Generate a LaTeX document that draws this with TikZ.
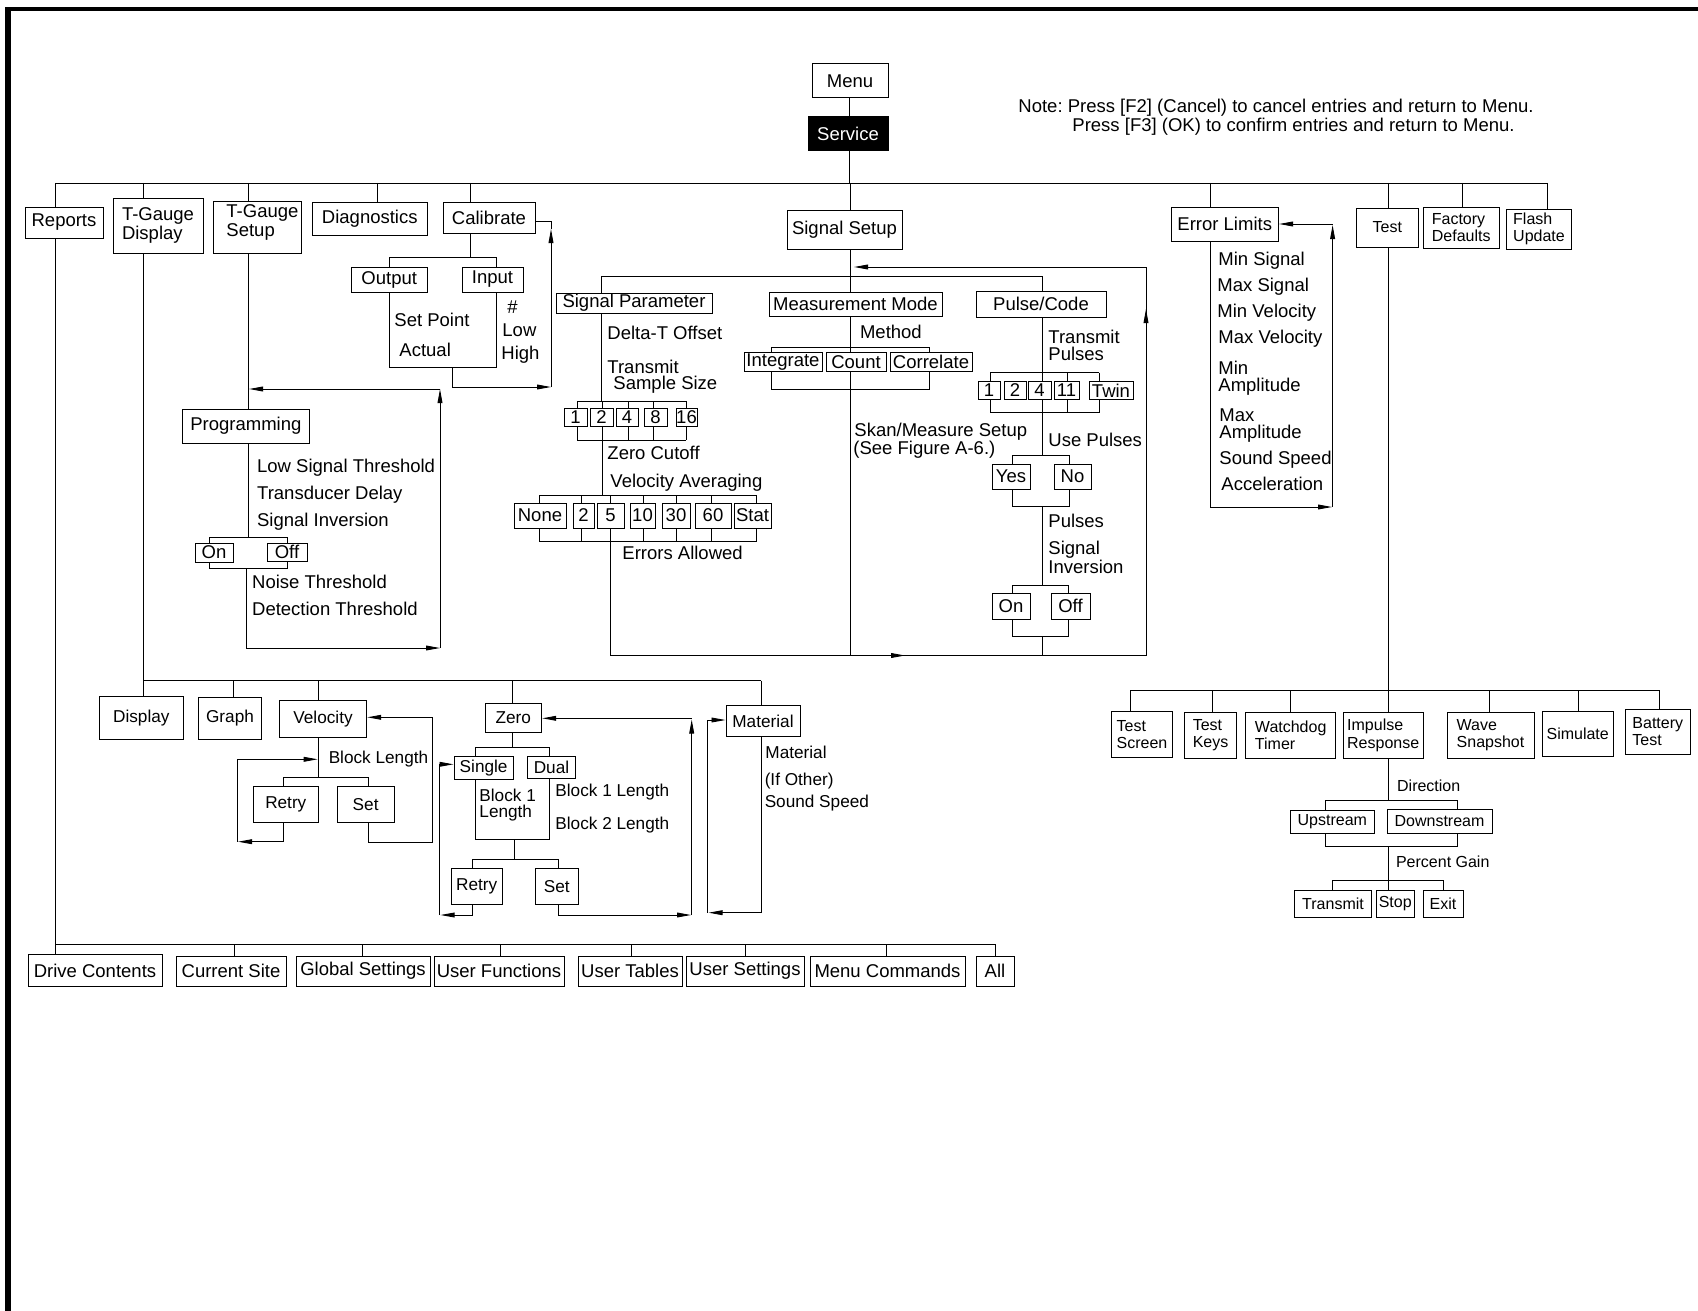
\documentclass[tikz,border=0pt]{standalone}
\usepackage{fontspec}
\setmainfont{Liberation Sans}
\usetikzlibrary{arrows.meta}
\frenchspacing
\newcommand\fontMain{\fontsize{9.25}{9.9}\selectfont}
\newcommand\fontMid{\fontsize{8.6}{9.2}\selectfont}
\newcommand\fontSmall{\fontsize{8}{8.6}\selectfont}
\newcommand\mkbox[7][]{%
  \pgfmathsetmacro\bxcx{(#3+#5)/2}%
  \pgfmathsetmacro\bxcy{(#4+#6)/2}%
  \pgfmathsetmacro\bxw{(#5-#3)/2}%
  \pgfmathsetmacro\bxh{(#6-#4)/2}%
  \node[bx,minimum width=\bxw pt,minimum height=\bxh pt,#1] (#2) at (\bxcx,\bxcy) {#7};%
}
\begin{document}
\begin{tikzpicture}[x=0.5pt,y=-0.5pt,line width=0.45pt,
  bx/.style={draw,line width=0.5pt,inner sep=0pt,font=\fontMain,align=center},
  txt/.style={inner sep=0pt,anchor=west,font=\fontMain,align=left},
  fmid/.style={font=\fontMid},
  fsmall/.style={font=\fontSmall},
  arrowed/.style={-{Triangle[length=7pt,width=2.4pt]}}]
\useasboundingbox (0,0) rectangle (1698,1311);
% frame
\fill (5,7) rectangle (1698,11);
\fill (5,7) rectangle (11,1311);

% top
\mkbox{menu}{812}{64}{888}{98}{Menu}
\mkbox[fill=black,text=white]{service}{808}{117}{888}{151}{Service}
\draw (menu.south -| 849,0) -- (service.north -| 849,0);
\draw (service.south -| 849,0) -- (849,183);
\node[txt] (note1) at (1018,108) {Note: Press [F2] (Cancel) to cancel entries and return to Menu.};
\node[txt] (note2) at (1072,127) {Press [F3] (OK) to confirm entries and return to Menu.};

% main bus and first row
\draw (55,183) -- (1547,183);
\mkbox{reports}{25}{207}{103}{238}{Reports}
\mkbox[align=left]{tgd}{113}{198}{203}{253}{T-Gauge\\Display}
\mkbox{tgs}{213}{201}{301.5}{253}{}
\node[txt] (tgst) at (226,222.5) {T-Gauge\\Setup};
\mkbox{diag}{312.6}{202}{427}{235}{Diagnostics}
\mkbox{cal}{443}{202}{535}{233}{Calibrate}
\mkbox{sigset}{787}{210}{902}{249}{Signal Setup}
\mkbox{errlim}{1171}{207}{1278.5}{241}{Error Limits}
\mkbox[fsmall]{test}{1356}{208}{1418.5}{247}{Test}
\mkbox[fsmall,align=left]{facdef}{1423.4}{207}{1499}{248}{Factory\\Defaults}
\mkbox[fsmall,align=left]{flash}{1506.6}{209}{1571.4}{249}{Flash\\Update}
\foreach \x/\n in {55/reports,143.5/tgd,248/tgs,377/diag,470/cal,850/sigset,1210.6/errlim,1388/test,1462/facdef,1547/flash}
  \draw (\x,183) -- (\n.north -| \x,0);

% Calibrate
\mkbox{output}{351.5}{267}{427}{292}{Output}
\mkbox{input}{462}{267}{523}{292}{Input}
\draw (cal.south -| 470,0) -- (470,257);
\draw (output.north -| 389,0) -- (389,257) -- (496,257) -- (input.north -| 496,0);
\draw (output.south -| 389,0) -- (389,367) -- (496,367) -- (input.south -| 496,0);
\draw[arrowed] (452,367) |- (551,387);
\draw[arrowed] (551,387) -- (551,229);
\draw (551,229) -- (551,221) -- (cal.east |- 0,221);
\node[txt] (setpoint) at (394,320) {Set Point};
\node[txt] (actual) at (399,350) {Actual};
\node[txt] (hash) at (507,307) {\#};
\node[txt] (low) at (502,330) {Low};
\node[txt] (high) at (501,355) {High};

% T-Gauge Setup / Programming
\mkbox{prog}{182.7}{409}{309}{443}{Programming}
\draw (tgs.south -| 248,0) -- (prog.north -| 248,0);
\draw[arrowed] (440,389) -- (249,389);
\draw (prog.south -| 248,0) -- (248,537);
\node[txt] (lst) at (256.7,468) {Low Signal Threshold};
\node[txt] (tdel) at (256.7,495) {Transducer Delay};
\node[txt] (sinv) at (256.7,522) {Signal Inversion};
\mkbox{on1}{195}{543}{233}{562}{On}
\mkbox{off1}{267}{543}{307}{561}{Off}
\draw (on1.north -| 209,0) -- (209,537) -- (287,537) -- (off1.north -| 287,0);
\draw (on1.south -| 209,0) -- (209,568) -- (287,568) -- (off1.south -| 287,0);
\draw[arrowed] (246.7,568) |- (440,648);
\draw[arrowed] (440,648) -- (440,389);
\node[txt] (noise) at (251.7,582) {Noise Threshold};
\node[txt] (detect) at (251.7,609) {Detection Threshold};

% Signal Setup
\mkbox{sigpar}{556}{293}{712}{313}{Signal Parameter}
\mkbox{measmode}{769}{292}{942}{316}{Measurement Mode}
\mkbox{pulsecode}{976}{291}{1106}{317}{Pulse/Code}
\draw (sigset.south -| 850,0) -- (850,276);
\draw (sigpar.north -| 601,0) -- (601,276) -- (1042,276) -- (pulsecode.north -| 1042,0);
\draw (850,276) -- (measmode.north -| 850,0);

% Signal Parameter
\draw (sigpar.south -| 601,0) -- (601,401);
\node[txt] (dto) at (607,333) {Delta-T Offset};
\node[txt] (trn) at (607,367) {Transmit};
\node[txt] (sss) at (613,385) {Sample Size};
\mkbox{ssa}{564}{408}{587}{426}{1}
\mkbox{ssb}{590}{408}{613}{426}{2}
\mkbox{ssc}{616}{408}{638}{426}{4}
\mkbox{ssd}{644}{408}{667}{426}{8}
\mkbox{sse}{676}{408}{697}{426}{16}
\draw (577,401) -- (686,401);
\draw (577,440) -- (686,440);
\foreach \x in {577,602,628,653,686} {\draw (\x,401) -- (\x,408); \draw (\x,426) -- (\x,440);}
\draw (602,440) -- (602,495);
\node[txt] (zc) at (607,453) {Zero Cutoff};
\node[txt] (va) at (610,483) {Velocity Averaging};
\mkbox{vaa}{514}{503}{566}{528}{None}
\mkbox{vab}{573}{503}{594}{528}{2}
\mkbox{vac}{597}{503}{624}{528}{5}
\mkbox{vad}{630}{503}{655}{528}{10}
\mkbox{vae}{662}{503}{690}{528}{30}
\mkbox{vaf}{695}{503}{731}{528}{60}
\mkbox{vag}{734}{503}{771}{528}{Stat}
\draw (539,495) -- (756,495);
\draw (539,541.7) -- (756,541.7);
\foreach \x in {539,581,610,643,676,711,756} {\draw (\x,495) -- (\x,503); \draw (\x,528) -- (\x,541.7);}
\node[txt] (ea) at (622,553) {Errors Allowed};
\draw (610,541.7) -- (610,655.5) -- (1146,655.5) -- (1146,267);
\draw[arrowed] (1146,267) -- (854,267);
\draw[arrowed] (878,655.5) -- (905,655.5);
\draw[arrowed] (1146,336) -- (1146,309);

% Measurement Mode
\draw (measmode.south -| 850,0) -- (850,347);
\node[txt] (meth) at (859.6,331.7) {Method};
\mkbox{integ}{744}{352.7}{822}{371.7}{Integrate}
\mkbox{count}{826}{352.7}{886}{371.7}{Count}
\mkbox{correl}{890}{352.7}{972}{371.7}{Correlate}
\draw (integ.north -| 771.5,0) -- (771.5,347) -- (929.6,347) -- (correl.north -| 929.6,0);
\draw (850,347) -- (count.north -| 850,0);
\draw (integ.south -| 771.5,0) -- (771.5,389) -- (929.6,389) -- (correl.south -| 929.6,0);
\draw (count.south -| 850,0) -- (850,655.5);
\node[txt] (skan) at (854,431.7) {Skan/Measure Setup};
\node[txt] (seefig) at (853,450) {(See Figure A-6.)};

% Pulse/Code
\draw (pulsecode.south -| 1042,0) -- (1042,372.7);
\node[txt] (tp1) at (1048,336.7) {Transmit};
\node[txt] (tp2) at (1048,354) {Pulses};
\mkbox{pca}{978}{381.7}{1000}{399.3}{1}
\mkbox{pcb}{1004}{381.7}{1026}{399.3}{2}
\mkbox{pcc}{1028}{381.7}{1051}{399.3}{4}
\mkbox{pcd}{1054}{381.7}{1079}{399.3}{11}
\mkbox{pce}{1089}{381.7}{1133}{399.3}{Twin}
\draw (990,372.7) -- (1099,372.7);
\draw (990,412.7) -- (1099,412.7);
\foreach \x in {990,1042,1067,1099} {\draw (\x,372.7) -- (\x,381.7); \draw (\x,399.3) -- (\x,412.7);}
\draw (1042,412.7) -- (1042,455);
\node[txt] (usep) at (1048,440) {Use Pulses};
\mkbox{yes}{992}{464}{1030}{489}{Yes}
\mkbox{no}{1054}{464}{1091}{489}{No}
\draw (yes.north -| 1012,0) -- (1012,455) -- (1069,455) -- (no.north -| 1069,0);
\draw (yes.south -| 1012,0) -- (1012,506) -- (1069,506) -- (no.south -| 1069,0);
\draw (1042,506) -- (1042,585);
\node[txt] (puls) at (1048,520.7) {Pulses};
\node[txt] (sig2) at (1048,550) {Signal};
\node[txt] (inv2) at (1048,567.3) {Inversion};
\mkbox{on2}{992}{593}{1030}{619}{On}
\mkbox{off2}{1051}{593}{1090}{619}{Off}
\draw (on2.north -| 1012,0) -- (1012,585) -- (1068,585) -- (off2.north -| 1068,0);
\draw (on2.south -| 1012,0) -- (1012,636) -- (1068,636) -- (off2.south -| 1068,0);
\draw (1042,636) -- (1042,655.5);

% Error Limits
\draw[arrowed] (errlim.south -| 1210.6,0) |- (1332,507);
\draw[arrowed] (1332.6,507) -- (1332.6,225);
\draw[arrowed] (1332.6,224) -- (errlim.east |- 0,224);
\node[txt] (el1) at (1218,260.7) {Min Signal};
\node[txt] (el2) at (1217,286.7) {Max Signal};
\node[txt] (el3) at (1217,312.7) {Min Velocity};
\node[txt] (el4) at (1218,339) {Max Velocity};
\node[txt] (el5) at (1218,367.3) {Min};
\node[txt] (el6) at (1218,386.7) {Amplitude};
\node[txt] (el7) at (1219,415) {Max};
\node[txt] (el8) at (1219,433.3) {Amplitude};
\node[txt] (el9) at (1219,459.3) {Sound Speed};
\node[txt] (el10) at (1221,484.3) {Acceleration};

% Test
\draw (test.south -| 1388,0) -- (1388,690);
\draw (1130.5,690) -- (1659.5,690);
\mkbox[fsmall,align=left]{tscr}{1111.4}{711.7}{1172.5}{757.3}{Test\\Screen}
\mkbox[fsmall,align=left]{tkey}{1184.7}{712}{1236.5}{758}{Test\\Keys}
\mkbox[fsmall,align=left]{wdog}{1245.7}{712}{1335.7}{758}{Watchdog\\Timer}
\mkbox[fsmall,align=left]{impr}{1343}{712.7}{1423.4}{758}{Impulse\\Response}
\mkbox[fsmall,align=left]{wave}{1447}{712.7}{1534}{758}{Wave\\Snapshot}
\mkbox[fsmall]{simu}{1542.4}{711.7}{1613}{756.7}{Simulate}
\mkbox[fsmall,align=left]{batt}{1625.6}{709}{1690}{754}{Battery\\Test}
\foreach \x/\n in {1130.5/tscr,1212.5/tkey,1290.7/wdog,1388/impr,1489/wave,1578/simu,1659.5/batt}
  \draw (\x,690) -- (\n.north -| \x,0);
\draw (impr.south -| 1388,0) -- (1388,800);
\node[txt,fsmall] (dirn) at (1396.7,785.7) {Direction};
\mkbox[fsmall]{ups}{1290}{810}{1374.6}{833}{Upstream}
\mkbox[fsmall]{downs}{1387}{809}{1492}{833}{Downstream}
\draw (ups.north -| 1325.8,0) -- (1325.8,800) -- (1457.4,800) -- (downs.north -| 1457.4,0);
\draw (ups.south -| 1325.8,0) -- (1325.8,846.7) -- (1457.4,846.7) -- (downs.south -| 1457.4,0);
\draw (1388,846.7) -- (1388,880);
\node[txt,fsmall] (pgain) at (1395.6,861.7) {Percent Gain};
\mkbox[fsmall]{trans}{1294.5}{890}{1371.5}{917}{Transmit}
\mkbox[fsmall]{stop}{1376.5}{890}{1414}{917}{Stop}
\mkbox[fsmall]{exit}{1423}{890}{1463}{917}{Exit}
\draw (trans.north -| 1332,0) -- (1332,880) -- (1443,880) -- (exit.north -| 1443,0);
\draw (1388,880) -- (stop.north -| 1388,0);

% T-Gauge Display subtree
\draw (tgd.south -| 143.5,0) -- (143.5,680.7) -- (761,680.7);
\mkbox[fmid]{disp}{99.3}{696}{183.3}{739.3}{Display}
\mkbox[fmid]{graph}{198.3}{697}{261.7}{739.3}{Graph}
\mkbox[fmid]{velo}{279.3}{700}{366.7}{737.7}{Velocity}
\mkbox[fmid]{zero}{485}{703.3}{541.7}{732.3}{Zero}
\mkbox[fmid]{matl}{726}{705.7}{800}{736.7}{Material}
\foreach \x/\n in {143.5/disp,233.3/graph,318.3/velo,512.3/zero,761/matl}
  \draw (\x,680.7) -- (\n.north -| \x,0);

% Velocity
\draw (velo.south -| 318.3,0) -- (318.3,777.3);
\node[txt,fmid] (blen) at (328.3,759) {Block Length};
\mkbox[fmid]{retry1}{253.3}{786.7}{318.3}{822.7}{Retry}
\mkbox[fmid]{set1}{337.3}{786.7}{394}{822.7}{Set}
\draw (retry1.north -| 283.3,0) -- (283.3,777.3) -- (368.3,777.3) -- (set1.north -| 368.3,0);
\draw[arrowed] (retry1.south -| 283.3,0) |- (238,841.7);
\draw (237.3,841.7) -- (237.3,759.3);
\draw[arrowed] (237.3,759.3) -- (317.7,759.3);
\draw (set1.south -| 368.3,0) |- (432.7,842.7) -- (432.7,717.3);
\draw[arrowed] (432.7,717.3) -- (velo.east |- 0,717.3);

% Zero
\draw (zero.south -| 512.3,0) -- (512.3,747.3);
\mkbox[fmid]{single}{454}{756.7}{513.3}{779}{Single}
\mkbox[fmid]{dual}{527.3}{756.7}{575.7}{778.3}{Dual}
\draw (single.north -| 475.7,0) -- (475.7,747.3) -- (549.3,747.3) -- (dual.north -| 549.3,0);
\draw (single.south -| 475.7,0) -- (475.7,839.3) -- (549.3,839.3) -- (dual.south -| 549.3,0);
\node[txt,fmid] (b1l) at (479,795) {Block 1};
\node[txt,fmid] (b1l2) at (479,813.3) {Length};
\node[txt,fmid] (bl1) at (555,792.3) {Block 1 Length};
\node[txt,fmid] (bl2) at (555,825) {Block 2 Length};
\draw (514.3,839.3) -- (514.3,859.3);
\mkbox[fmid]{retry2}{451}{868.7}{502.3}{904.3}{Retry}
\mkbox[fmid]{set2}{535.3}{868.7}{578.3}{904.3}{Set}
\draw (retry2.north -| 472.3,0) -- (472.3,859.3) -- (558.3,859.3) -- (set2.north -| 558.3,0);
\draw[arrowed] (retry2.south -| 472.3,0) |- (440.5,915);
\draw (439.3,915) -- (439.3,764.3);
\draw[arrowed] (439.3,764.3) -- (single.west |- 0,764.3);
\draw[arrowed] (set2.south -| 558.3,0) |- (691,915);
\draw[arrowed] (691.7,915) -- (691.7,719.5);
\draw[arrowed] (691.7,718.3) -- (zero.east |- 0,718.3);

% Material
\node[txt,fmid] (mt1) at (765,752.7) {Material};
\node[txt,fmid] (mt2) at (764.3,781) {(If Other)};
\node[txt,fmid] (mt3) at (764.3,803.3) {Sound Speed};
\draw[arrowed] (matl.south -| 761,0) |- (708.5,912.7);
\draw (707.3,912.7) -- (707.3,720);
\draw[arrowed] (707.3,720) -- (matl.west |- 0,720);

% Reports / bottom row
\mkbox{dc}{28}{954.3}{162}{986.7}{Drive Contents}
\mkbox{cs}{176}{956}{286}{986}{Current Site}
\mkbox{gs}{296}{956}{430}{986}{Global Settings}
\mkbox{uf}{434}{956}{564}{986}{User Functions}
\mkbox{ut}{578}{956}{682}{986}{User Tables}
\mkbox{us}{686}{956}{804}{986}{User Settings}
\mkbox{mc}{810}{956}{965}{986}{Menu Commands}
\mkbox{all}{976}{956}{1014}{986}{All}
\draw (reports.south -| 55,0) -- (dc.north -| 55,0);
\draw (55,944) -- (995.6,944);
\foreach \x/\n in {234/cs,362/gs,500/uf,631/ut,745/us,886/mc,995.6/all}
  \draw (\x,944) -- (\n.north -| \x,0);
\end{tikzpicture}
\end{document}
